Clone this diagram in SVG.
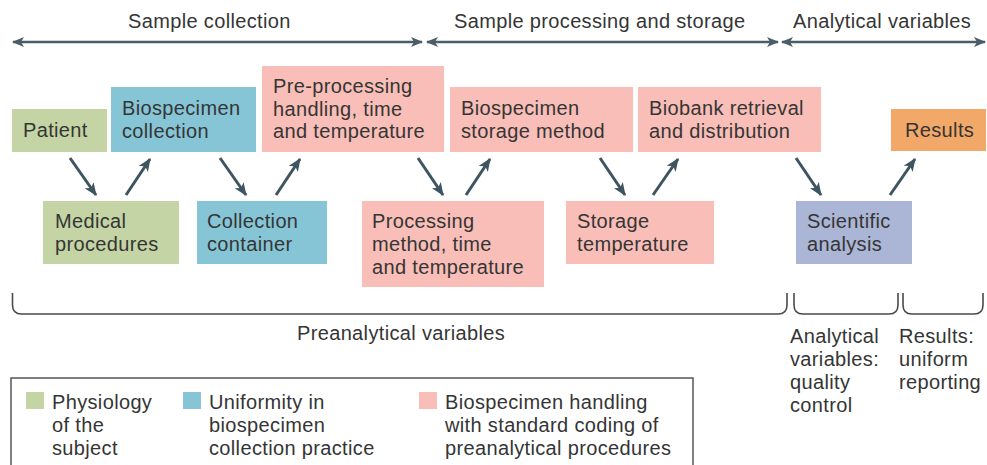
<svg xmlns="http://www.w3.org/2000/svg" width="987" height="465" viewBox="0 0 987 465">
  <defs>
    <marker id="head" viewBox="0 0 12 10" refX="11" refY="5" markerWidth="13" markerHeight="11" markerUnits="userSpaceOnUse" orient="auto-start-reverse">
      <path d="M0,0 L12,5 L0,10 L3,5 z" fill="#3e5561"/>
    </marker>
    <marker id="span" viewBox="0 0 12 10" refX="11" refY="5" markerWidth="12" markerHeight="10" markerUnits="userSpaceOnUse" orient="auto-start-reverse">
      <path d="M0,0 L12,5 L0,10 L3,5 z" fill="#4a5d68"/>
    </marker>
  </defs>
  <style>
    text { font-family: "Liberation Sans", Arial, sans-serif; font-size: 20px; letter-spacing: 0.35px; fill: #353535; }
    .green { fill: #c4d4a4; }
    .blue { fill: #86c5d6; }
    .pink { fill: #f8beb7; }
    .orange { fill: #f2a868; }
    .lav { fill: #abb5d5; }
    .flow { stroke: #3e5561; stroke-width: 3; fill: none; marker-end: url(#head); }
    .spanline { stroke: #4a5d68; stroke-width: 2.5; fill: none; marker-start: url(#span); marker-end: url(#span); }
    .brace { stroke: #4a4a4a; stroke-width: 1.6; fill: none; }
    .legend { stroke: #555; stroke-width: 1.5; fill: #fff; }
  </style>

  <!-- phase headings -->
  <g id="phases">
    <text x="128" y="28">Sample collection</text>
    <text x="454" y="28">Sample processing and storage</text>
    <text x="793" y="28">Analytical variables</text>
    <line class="spanline" x1="13" y1="42" x2="422" y2="42"/>
    <line class="spanline" x1="427" y1="42" x2="778" y2="42"/>
    <line class="spanline" x1="782" y1="42" x2="985" y2="42"/>
  </g>

  <!-- upper row -->
  <g id="patient">
    <rect class="green" x="12" y="109" width="95" height="43"/>
    <text x="23" y="137">Patient</text>
  </g>
  <g id="biospecimen-collection">
    <rect class="blue" x="111" y="87" width="145" height="65"/>
    <text x="122" y="115">Biospecimen<tspan x="122" dy="22.7">collection</tspan></text>
  </g>
  <g id="pre-processing">
    <rect class="pink" x="262" y="66" width="182" height="86"/>
    <text x="273" y="93">Pre-processing<tspan x="273" dy="22.6">handling, time</tspan><tspan x="273" dy="22.6">and temperature</tspan></text>
  </g>
  <g id="storage-method">
    <rect class="pink" x="450" y="87" width="183" height="65"/>
    <text x="461" y="115">Biospecimen<tspan x="461" dy="22.7">storage method</tspan></text>
  </g>
  <g id="biobank">
    <rect class="pink" x="638" y="87" width="183" height="65"/>
    <text x="649" y="115">Biobank retrieval<tspan x="649" dy="22.7">and distribution</tspan></text>
  </g>
  <g id="results">
    <rect class="orange" x="891" y="109" width="95" height="42"/>
    <text x="905" y="137">Results</text>
  </g>

  <!-- lower row -->
  <g id="medical-procedures">
    <rect class="green" x="43" y="201" width="136" height="63"/>
    <text x="55" y="228">Medical<tspan x="55" dy="22.8">procedures</tspan></text>
  </g>
  <g id="collection-container">
    <rect class="blue" x="197" y="201" width="130" height="63"/>
    <text x="207" y="228">Collection<tspan x="207" dy="22.8">container</tspan></text>
  </g>
  <g id="processing-method">
    <rect class="pink" x="362" y="201" width="182" height="86"/>
    <text x="372" y="228">Processing<tspan x="372" dy="22.8">method, time</tspan><tspan x="372" dy="22.8">and temperature</tspan></text>
  </g>
  <g id="storage-temperature">
    <rect class="pink" x="566" y="201" width="148" height="63"/>
    <text x="577" y="228">Storage<tspan x="577" dy="22.8">temperature</tspan></text>
  </g>
  <g id="scientific-analysis">
    <rect class="lav" x="796" y="201" width="116" height="63"/>
    <text x="807" y="228">Scientific<tspan x="807" dy="22.8">analysis</tspan></text>
  </g>

  <!-- flow connectors -->
  <g id="connectors">
    <line class="flow" x1="70" y1="158" x2="96" y2="195"/>
    <line class="flow" x1="126" y1="195" x2="150" y2="159"/>
    <line class="flow" x1="220" y1="158" x2="246" y2="195"/>
    <line class="flow" x1="276" y1="195" x2="300" y2="159"/>
    <line class="flow" x1="418" y1="158" x2="443" y2="195"/>
    <line class="flow" x1="466" y1="195" x2="490" y2="159"/>
    <line class="flow" x1="600" y1="158" x2="625" y2="195"/>
    <line class="flow" x1="653" y1="195" x2="678" y2="159"/>
    <line class="flow" x1="796" y1="158" x2="821" y2="195"/>
    <line class="flow" x1="890" y1="195" x2="915" y2="159"/>
  </g>

  <!-- brackets and their labels -->
  <g id="brackets">
    <path class="brace" d="M12.5,293 V305 Q12.5,314 21.5,314 H778 Q787,314 787,305 V293"/>
    <path class="brace" d="M794,293 V305 Q794,314 803,314 H889 Q898,314 898,305 V293"/>
    <path class="brace" d="M903,293 V305 Q903,314 912,314 H974 Q983,314 983,305 V293"/>
    <text x="297" y="340">Preanalytical variables</text>
    <text x="790" y="343">Analytical<tspan x="790" dy="22.9">variables:</tspan><tspan x="790" dy="22.9">quality</tspan><tspan x="790" dy="22.9">control</tspan></text>
    <text x="899" y="343">Results:<tspan x="899" dy="22.9">uniform</tspan><tspan x="899" dy="22.9">reporting</tspan></text>
  </g>

  <!-- key -->
  <g id="legend">
    <rect class="legend" x="11" y="378" width="682" height="100"/>
    <rect class="green" x="26" y="392" width="18" height="17"/>
    <text x="52" y="409">Physiology<tspan x="52" dy="23">of the</tspan><tspan x="52" dy="23">subject</tspan></text>
    <rect class="blue" x="183" y="392" width="18" height="17"/>
    <text x="209" y="409">Uniformity in<tspan x="209" dy="23">biospecimen</tspan><tspan x="209" dy="23">collection practice</tspan></text>
    <rect class="pink" x="419" y="392" width="18" height="17"/>
    <text x="445" y="409">Biospecimen handling<tspan x="445" dy="23">with standard coding of</tspan><tspan x="445" dy="23">preanalytical procedures</tspan></text>
  </g>
</svg>
